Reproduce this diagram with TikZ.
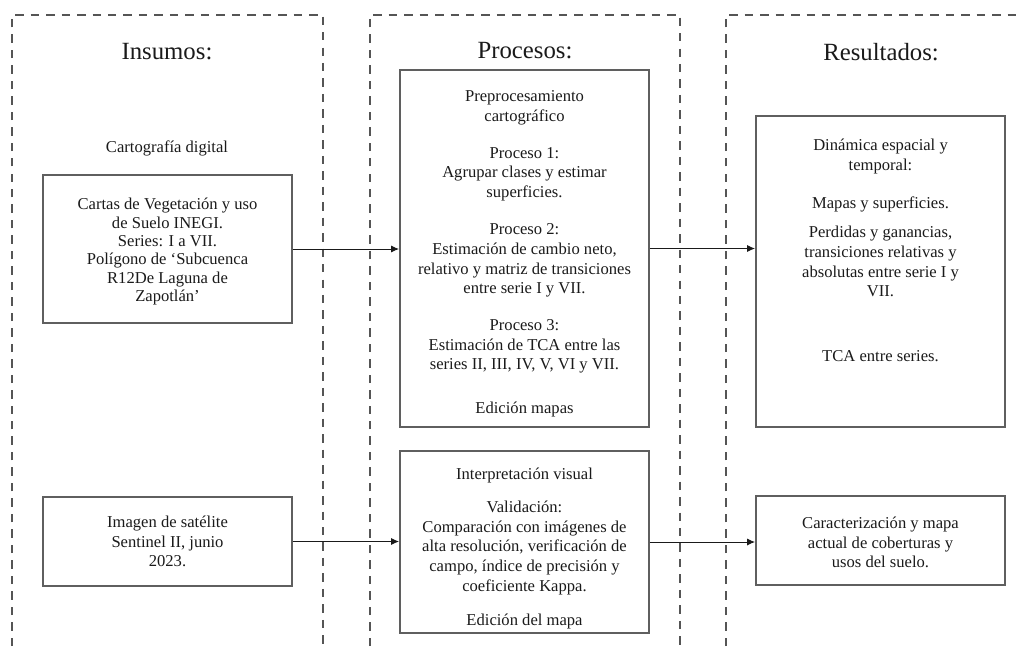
\documentclass[tikz,border=0pt]{standalone}
\usepackage{fontspec}
\setmainfont{Liberation Serif}
\usepackage{tikz}
\usetikzlibrary{positioning,arrows.meta,calc}
\definecolor{txt}{HTML}{1A1A1A}
\definecolor{boxline}{HTML}{5F5F5F}
\definecolor{dashline}{HTML}{555555}
\newcommand{\boxfont}{\fontsize{11.8}{14}\selectfont}
\newcommand{\tightfont}{\fontsize{11.8}{13.1}\selectfont}
\newcommand{\headfont}{\fontsize{17.6}{20}\selectfont}
\tikzset{
  box/.style={draw=boxline,line width=1.3pt,minimum width=6.225cm,inner sep=0pt,align=center,text=txt,font=\boxfont},
  head/.style={align=center,text=txt,font=\headfont},
  plain/.style={align=center,text=txt,font=\boxfont},
  frame/.style={draw=dashline,line width=1pt,dash pattern=on 6pt off 5pt},
  flow/.style={-{Latex[length=2mm,width=1.8mm]},draw=txt,line width=0.7pt}}

\begin{document}
\begin{tikzpicture}[x=0.025cm,y=-0.025cm]
  \useasboundingbox (0,0) rectangle (1023,646);
  % columns
  \draw[frame] (12,646) |- (323,15) -- (323,646);
  \draw[frame] (370,646) |- (680,15) -- (680,646);
  \draw[frame] (726,646) |- (1023,15);
  \node[head] (insumos) at (167,52) {Insumos:};
  \node[head] (procesos) at (525,51) {Procesos:};
  \node[head] (resultados) at (881,52) {Resultados:};
  % inputs
  \node[plain] (carto) at (167,148) {Cartografía digital};
  \node[box,font=\tightfont,minimum height=3.7cm] (cartas) at (167.5,249)
    {\rule{0pt}{12pt}Cartas de Vegetación y uso\\de Suelo INEGI.\\Series: I a VII.\\Polígono de ‘Subcuenca\\R12De Laguna de\\Zapotlán’};
  \node[box,minimum height=2.225cm] (img) at (167.5,541.5)
    {Imagen de satélite\\Sentinel II, junio\\2023.};
  % processes
  \node[box,minimum height=8.925cm] (proc) at (524.5,248.5)
    {\rule{0pt}{15.5pt}Preprocesamiento\\cartográfico\\[12.4pt]
     Proceso 1:\\Agrupar clases y estimar\\superficies.\\[12.4pt]
     Proceso 2:\\Estimación de cambio neto,\\relativo y matriz de transiciones\\entre serie I y VII.\\[12pt]
     Proceso 3:\\Estimación de TCA entre las\\series II, III, IV, V, VI y VII.\\[17.4pt]
     Edición mapas};
  \node[box,minimum height=4.55cm] (valid) at (524.5,542)
    {\rule{0pt}{18pt}Interpretación visual\\[9pt]
     Validación:\\Comparación con imágenes de\\alta resolución, verificación de\\campo, índice de precisión y\\coeficiente Kappa.\\[10.7pt]
     Edición del mapa};
  % results
  \node[box,minimum height=7.775cm] (dyn) at (880.5,271.5)
    {Dinámica espacial y\\temporal:\\[13pt]
     Mapas y superficies.\\[7pt]
     Perdidas y ganancias,\\transiciones relativas y\\absolutas entre serie I y\\VII.\\[32pt]
     TCA entre series.\\[16pt]\mbox{}};
  \node[box,minimum height=2.225cm] (carac) at (880.5,540.5)
    {\rule{0pt}{11pt}Caracterización y mapa\\actual de coberturas y\\usos del suelo.};
  % connectors
  \draw[flow] (cartas.east) -- (cartas.east -| proc.west);
  \draw[flow] (proc.east) -- (proc.east -| dyn.west);
  \draw[flow] (img.east) -- (img.east -| valid.west);
  \draw[flow] (valid.east) -- (valid.east -| carac.west);
\end{tikzpicture}
\end{document}
